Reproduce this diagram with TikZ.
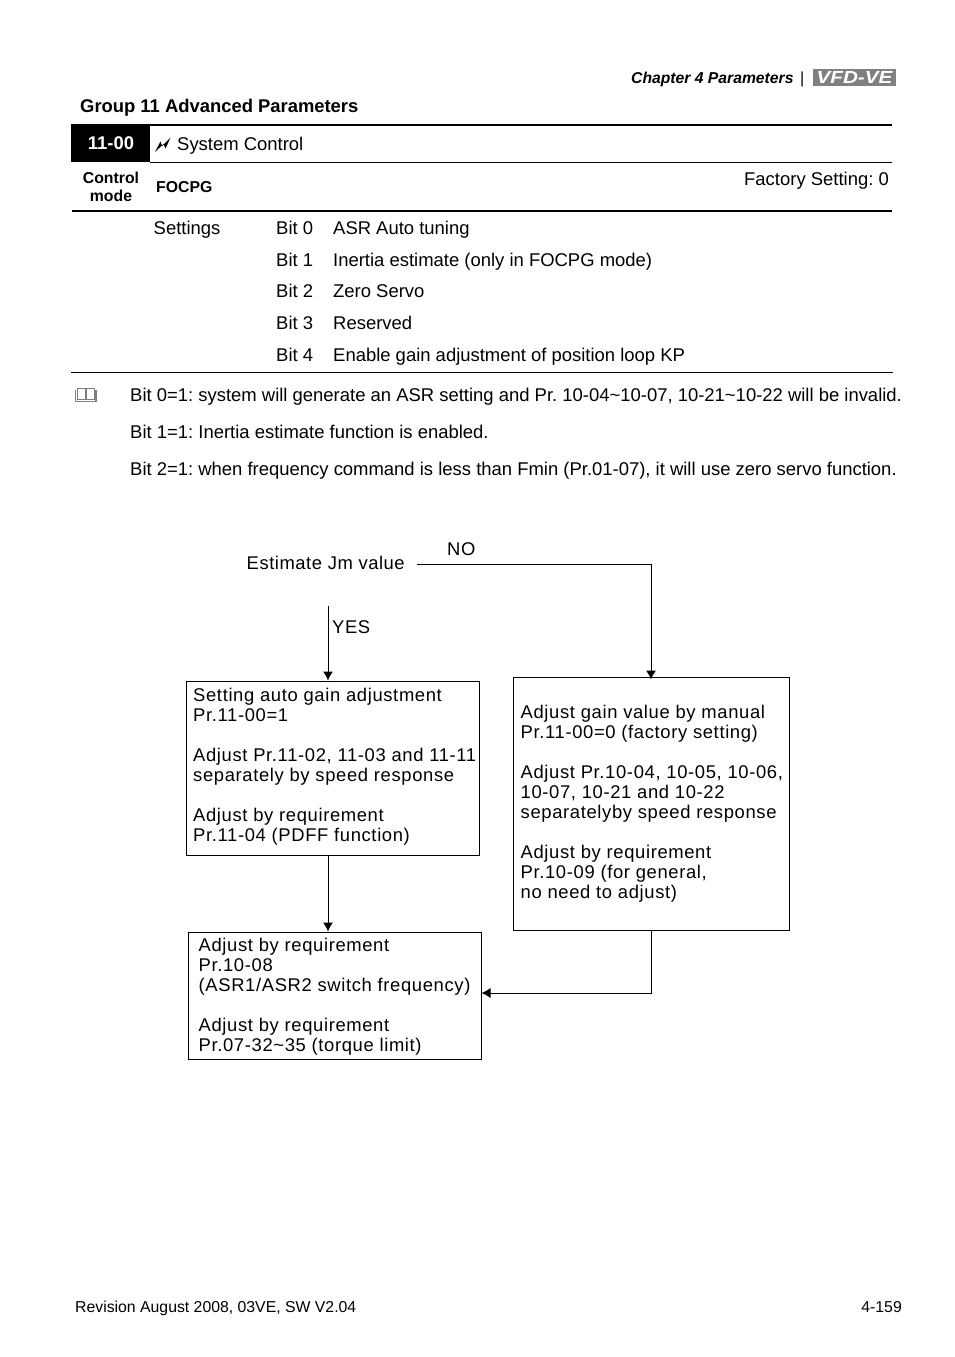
\documentclass[tikz,border=0pt]{standalone}
\usepackage{graphicx}
\usepackage{fontspec}
\setmainfont{Liberation Sans}
\newfontfamily\flowfont[LetterSpace=3.0]{Liberation Sans}
\newfontfamily\boxfont[LetterSpace=3.5]{Liberation Sans}
\usetikzlibrary{arrows.meta,calc}
\newcommand{\fs}[1]{\fontsize{#1}{20}\selectfont}
\tikzset{
  x=1pt,y=-1pt,
  body/.style={anchor=base west,inner sep=0pt,font=\frenchspacing\fs{18.45}},
  boldt/.style={anchor=base west,inner sep=0pt,font=\frenchspacing\fs{18.4}\bfseries},
  flow/.style={anchor=base west,inner sep=0pt,font=\flowfont\fs{18.4}},
  fbox/.style={draw=black,line width=1pt,inner sep=0pt,anchor=north west},
  ftext/.style={inner sep=0pt,align=left,anchor=north west,font=\boxfont\fs{18.4}},
  rulethick/.style={line width=2pt,black},
  rulethin/.style={line width=1pt,black},
  conn/.style={line width=1pt,black},
  arrowc/.style={conn,-{Latex[length=9pt,width=10pt]}},
  icon/.style={black!50,line width=0.8pt},
}
\begin{document}
\begin{tikzpicture}
\useasboundingbox (0,0) rectangle (954,1357);
% header
\node[anchor=base west,inner sep=0pt,font=\frenchspacing\fs{15.7}\bfseries\itshape] (chap) at (631,83) {Chapter 4 Parameters};
\node[anchor=base west,inner sep=0pt,font=\fs{16}] (bar) at (800,83) {|};
\node[fill=black!50,text=white,inner sep=0pt,minimum width=83,minimum height=17,font=\fs{17.5}\bfseries\itshape] (logo) at (854.5,77.5) {\scalebox{1.18}[1]{VFD-VE}};
\node[boldt] (grp) at (80,112) {Group 11 Advanced Parameters};
% table
\fill[black] (71,125) rectangle (150,162);
\draw[rulethick] (71,125) -- (892,125);
\draw[rulethin] (150,162.5) -- (892,162.5);
\draw[rulethick] (72,211) -- (892,211);
\draw[rulethin] (71,372) -- (893,372);
\node[text=white,inner sep=0pt,font=\fs{18.4}\bfseries] (num) at (111,143.5) {11-00};
\fill[black] (155,152) -- (160.5,141.5) -- (162,146) -- (170.5,137.5) -- (165.5,148.5) -- (163.5,144) -- cycle;
\node[body] (sys) at (177,150) {System Control};
\node[inner sep=0pt,align=center,font=\fs{15.8}\bfseries] (ctrl) at (111,186.5) {Control\\[-2pt]mode};
\node[anchor=base west,inner sep=0pt,font=\fs{15.8}\bfseries] (foc) at (156,192) {FOCPG};
\node[anchor=base east,inner sep=0pt,font=\frenchspacing\fs{18.45}] (fact) at (889,185) {Factory Setting: 0};
\node[body] (set) at (153.5,234) {Settings};
\node[body] (b0) at (276,234) {Bit 0};
\node[body] (b1) at (276,266) {Bit 1};
\node[body] (b2) at (276,297) {Bit 2};
\node[body] (b3) at (276,329) {Bit 3};
\node[body] (b4) at (276,361) {Bit 4};
\node[body] (t0) at (333,234) {ASR Auto tuning};
\node[body] (t1) at (333,266) {Inertia estimate (only in FOCPG mode)};
\node[body] (t2) at (333,297) {Zero Servo};
\node[body] (t3) at (333,329) {Reserved};
\node[body] (t4) at (333,361) {Enable gain adjustment of position loop KP};
% book icon
\draw[icon] (77,388) rectangle (85,399);
\draw[icon] (86.5,388) rectangle (94.5,399);
\draw[icon,line width=1.2pt] (75.5,390) -- (75.5,401.5) -- (96,401.5) -- (96,390);
% notes
\node[body] (n0) at (130,401) {Bit 0=1: system will generate an ASR setting and Pr. 10-04\textasciitilde10-07, 10-21\textasciitilde10-22 will be invalid.};
\node[body] (n1) at (130,438) {Bit 1=1: Inertia estimate function is enabled.};
\node[body] (n2) at (130,475.5) {Bit 2=1: when frequency command is less than Fmin (Pr.01-07), it will use zero servo function.};
% flow
\node[flow] (est) at (246.5,569) {Estimate Jm value};
\node[flow] (no) at (447,555) {NO};
\node[flow] (yes) at (332,633) {YES};
\coordinate (estout) at (417,564.5);
\coordinate (yesin) at (328,605.5);
\coordinate (noturn) at (651,564.5);
\node[fbox,minimum width=293,minimum height=174] (bA) at (185.5,680.5) {};
\node[fbox,minimum width=276,minimum height=253] (bB) at (512.5,676.5) {};
\node[fbox,minimum width=293,minimum height=127] (bC) at (187.5,931.5) {};
\node[ftext] (tA) at (193,687.5) {\strut Setting auto gain adjustment\\Pr.11-00=1\\[20pt]Adjust Pr.11-02, 11-03 and 11-11\\separately by speed response\\[20pt]Adjust by requirement\\Pr.11-04 (PDFF function)};
\node[ftext] (tB) at (520.5,704) {\strut Adjust gain value by manual\\Pr.11-00=0 (factory setting)\\[20pt]Adjust Pr.10-04, 10-05, 10-06,\\10-07, 10-21 and 10-22\\separatelyby speed response\\[20pt]Adjust by requirement\\Pr.10-09 (for general,\\no need to adjust)};
\node[ftext] (tC) at (198.5,937) {\strut Adjust by requirement\\Pr.10-08\\(ASR1/ASR2 switch frequency)\\[20pt]Adjust by requirement\\Pr.07-32\textasciitilde35 (torque limit)};
\draw[arrowc] (estout) -- (noturn) -- ($(noturn |- bB.north)+(0,3)$);
\draw[arrowc] (yesin) -- (yesin |- bA.north);
\draw[arrowc] (bA.south -| yesin) -- (yesin |- bC.north);
\draw[arrowc] (noturn |- bB.south) |- ($(bC.east)+(0,-2.5)$);
% footer
\node[anchor=base west,inner sep=0pt,font=\frenchspacing\fs{15.8}] (rev) at (75,1312) {Revision August 2008, 03VE, SW V2.04};
\node[anchor=base east,inner sep=0pt,font=\fs{15.8}] (pg) at (902,1312) {4-159};
\end{tikzpicture}
\end{document}
